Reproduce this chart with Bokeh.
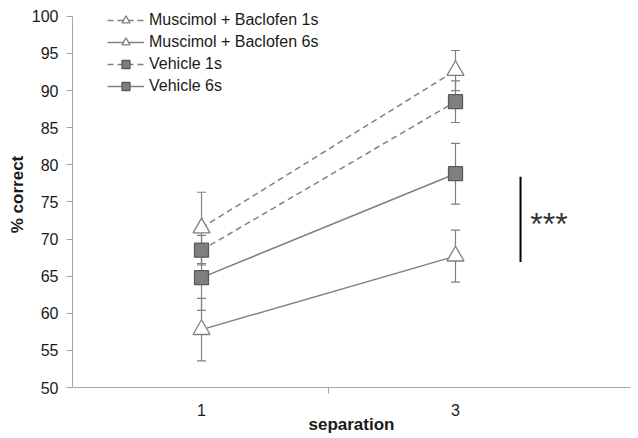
from bokeh.plotting import figure
from bokeh.models import ColumnDataSource, Whisker, TeeHead, Legend, LegendItem, FixedTicker, Range1d
from bokeh.embed import file_html
from bokeh.resources import INLINE
from bokeh.core.properties import value

# data
x_pos = [0, 1]
x_labels = ["1", "3"]
mb1 = [71.5, 92.7]
mb1_err = [4.8, 2.7]
mb6 = [57.8, 67.7]
mb6_err = [4.2, 3.5]
v1 = [68.5, 88.5]
v1_err = [2.0, 2.8]
v6 = [64.8, 78.8]
v6_err = [4.4, 4.1]
sig_x = [1.256]
sig_y0 = [66.9]
sig_y1 = [78.4]
sig_text = ["***"]
sig_tx = [1.368]
sig_ty = [72.0]
y_ticks = list(range(50, 101, 5))

FONT = "Liberation Sans"
GRAY = "#808080"
TXT = "#1a1a1a"

p = figure(width=637, height=437, output_backend="svg", toolbar_location=None,
           x_range=Range1d(-0.508, 1.689), y_range=Range1d(50, 102),
           min_border_left=72, min_border_right=7, min_border_top=1, min_border_bottom=50)
p.outline_line_color = None
p.grid.grid_line_color = None

p.yaxis.ticker = FixedTicker(ticks=y_ticks)
p.yaxis.bounds = (50, 100)
p.yaxis.major_tick_in = 0
p.yaxis.major_tick_out = 6
p.yaxis.minor_tick_out = 0
p.yaxis.minor_tick_in = 0
p.yaxis.axis_line_color = "#a6a6a6"
p.yaxis.major_tick_line_color = "#a6a6a6"
p.yaxis.major_label_text_font = FONT
p.yaxis.major_label_text_font_size = "16px"
p.yaxis.major_label_text_color = TXT
p.yaxis.major_label_standoff = 8
p.yaxis.axis_label = "% correct"
p.yaxis.axis_label_text_font = FONT
p.yaxis.axis_label_text_font_size = "17px"
p.yaxis.axis_label_text_font_style = "bold"
p.yaxis.axis_label_text_color = TXT
p.yaxis.axis_label_standoff = 2

p.xaxis.ticker = FixedTicker(ticks=x_pos, minor_ticks=[0.5])
p.xaxis.major_label_overrides = {x: l for x, l in zip(x_pos, x_labels)}
p.xaxis.major_tick_in = 0
p.xaxis.major_tick_out = 0
p.xaxis.minor_tick_in = 0
p.xaxis.minor_tick_out = 6
p.xaxis.axis_line_color = "#a6a6a6"
p.xaxis.minor_tick_line_color = "#a6a6a6"
p.xaxis.major_label_text_font = FONT
p.xaxis.major_label_text_font_size = "16px"
p.xaxis.major_label_text_color = TXT
p.xaxis.major_label_standoff = 10
p.xaxis.axis_label = "separation"
p.xaxis.axis_label_text_font = FONT
p.xaxis.axis_label_text_font_size = "17px"
p.xaxis.axis_label_text_font_style = "bold"
p.xaxis.axis_label_text_color = TXT
p.xaxis.axis_label_standoff = -4

series = [
    ("Muscimol + Baclofen 1s", mb1, mb1_err, "triangle", "6 4"),
    ("Muscimol + Baclofen 6s", mb6, mb6_err, "triangle", "solid"),
    ("Vehicle 1s", v1, v1_err, "square", "6 4"),
    ("Vehicle 6s", v6, v6_err, "square", "solid"),
]

for name, ys, errs, marker, dash in series:
    src = ColumnDataSource(dict(x=x_pos, y=ys,
                                lo=[a - b for a, b in zip(ys, errs)],
                                hi=[a + b for a, b in zip(ys, errs)]))
    w = Whisker(source=src, base="x", lower="lo", upper="hi", line_color=GRAY, line_width=1.2,
                level="underlay",
                upper_head=TeeHead(size=9, line_color=GRAY, line_width=1.2),
                lower_head=TeeHead(size=9, line_color=GRAY, line_width=1.2))
    p.add_layout(w)

renderers = []
for name, ys, errs, marker, dash in series:
    src = ColumnDataSource(dict(x=x_pos, y=ys))
    ln = p.line("x", "y", source=src, line_color=GRAY, line_width=1.5, line_dash=dash)
    renderers.append((name, ln, src, marker))

items = []
for name, ln, src, marker in renderers:
    if marker == "triangle":
        mk = p.scatter("x", "y", source=src, marker="triangle", size=17, fill_color="white",
                       line_color=GRAY, line_width=1.3)
    else:
        mk = p.scatter("x", "y", source=src, marker="square", size=14, fill_color="#7f7f7f",
                       line_color="#5a5a5a", line_width=1.3)
    items.append(LegendItem(label=name, renderers=[ln, mk]))

p.segment(x0=sig_x, y0=sig_y0, x1=sig_x, y1=sig_y1, line_color="black", line_width=2)
p.text(x=sig_tx, y=sig_ty, text=sig_text, text_font=value(FONT), text_font_size="32px",
       text_align="center", text_baseline="alphabetic", text_color="#333333")

legend = Legend(items=items, location=(35, 291), margin=0, padding=0, spacing=2,
                glyph_width=37, glyph_height=20, label_standoff=5,
                label_text_font=FONT, label_text_font_size="16px", label_text_color=TXT,
                background_fill_alpha=0, border_line_color=None, label_height=20)
p.add_layout(legend)

open("out.html", "w").write(file_html(p, INLINE))
